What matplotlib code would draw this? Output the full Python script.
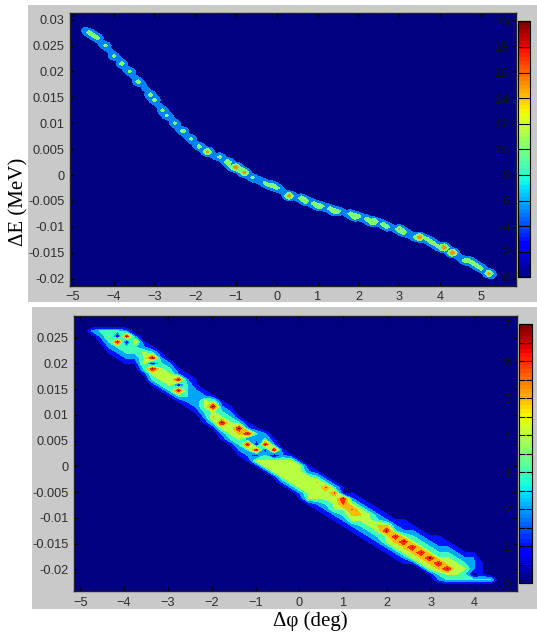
import numpy as np
import matplotlib
matplotlib.use('Agg')
import matplotlib.pyplot as plt
from matplotlib.cm import ScalarMappable
from matplotlib.colors import Normalize
from matplotlib.patches import Rectangle

W, H = 537, 634

# upper plot: ridge centre and count for each phi column
top_phi = [-4.7, -4.6, -4.5, -4.4, -4.3, -4.2, -4.1, -4.0, -3.9, -3.8, -3.7, -3.6, -3.5, -3.4, -3.3, -3.2, -3.1,
           -3.0, -2.9, -2.8, -2.7, -2.6, -2.5, -2.4, -2.3, -2.2, -2.1, -2.0, -1.9, -1.8, -1.7, -1.6, -1.5, -1.4,
           -1.3, -1.2, -1.1, -1.0, -0.9, -0.8, -0.7, -0.6, -0.5, -0.4, -0.3, -0.2, -0.1, 0.0, 0.1, 0.2, 0.3, 0.4,
           0.5, 0.6, 0.7, 0.8, 0.9, 1.0, 1.1, 1.2, 1.3, 1.4, 1.5, 1.6, 1.7, 1.8, 1.9, 2.0, 2.1, 2.2, 2.3, 2.4,
           2.5, 2.6, 2.7, 2.8, 2.9, 3.0, 3.1, 3.2, 3.3, 3.4, 3.5, 3.6, 3.7, 3.8, 3.9, 4.0, 4.1, 4.2, 4.3, 4.4,
           4.5, 4.6, 4.7, 4.8, 4.9, 5.0, 5.1, 5.2, 5.3]
top_de = [.0279, .0275, .0270, .0263, .0255, .0248, .0240, .0232, .0224, .0215, .0207, .0200, .0191, .0182, .0174,
          .0165, .0154, .0144, .0137, .0127, .0117, .0108, .0099, .0091, .0083, .0075, .0069, .0062, .0056, .0051,
          .0045, .0041, .0037, .0033, .0028, .0023, .0017, .0013, .0008, .0003, -.0001, -.0005, -.0008, -.0011,
          -.0015, -.0018, -.0022, -.0026, -.0030, -.0035, -.0038, -.0041, -.0044, -.0046, -.0048, -.0051, -.0055,
          -.0058, -.0060, -.0063, -.0065, -.0068, -.0070, -.0072, -.0075, -.0077, -.0079, -.0081, -.0083, -.0086,
          -.0088, -.0090, -.0092, -.0095, -.0098, -.0101, -.0104, -.0107, -.0110, -.0113, -.0116, -.0118, -.0121,
          -.0124, -.0127, -.0131, -.0135, -.0138, -.0142, -.0146, -.0150, -.0155, -.0159, -.0163, -.0167, -.0170,
          -.0174, -.0178, -.0185, -.0191, -.0195]
top_count = [8, 13, 13, 13, 8, 12, 8, 12, 8, 13, 8, 12, 8, 13, 8, 8, 13, 13, 8, 12, 12, 8, 12, 8, 13, 8, 12, 8, 13, 8,
             17, 8, 8, 12, 8, 15, 13, 19, 13, 18, 8, 12, 8, 8, 12, 12, 13, 13, 8, 8, 18, 8, 8, 14, 15, 8, 13, 14, 13,
             8, 13, 14, 13, 8, 8, 13, 15, 13, 8, 13, 14, 15, 8, 13, 13, 8, 8, 16, 15, 8, 8, 13, 18, 8, 13, 13, 12, 13,
             19, 8, 19, 8, 8, 13, 13, 13, 13, 13, 8, 17, 7]

# lower plot: counts along the diagonal, one line per phi bin,
# columns are row offsets +4 .. -7 from the diagonal
bot_band = [
    [0, 0, 0, 0, 2, 0, 0, 0, 0, 0, 0, 0],
    [0, 0, 0, 3, 2, 1, 0, 0, 0, 0, 0, 0],
    [0, 0, 3, 4, 3, 2, 1, 0, 0, 0, 0, 0],
    [0, 3, 0, 7, 3, 2, 1, 0, 0, 0, 0, 0],
    [2, 7, 0, 3, 3, 2, 1, 0, 0, 0, 0, 0],
    [2, 5, 3, 3, 2, 1, 0, 0, 0, 0, 0, 0],
    [1, 2, 4, 4, 4, 3, 1, 0, 0, 0, 0, 0],
    [1, 3, 7, 0, 7, 4, 3, 1, 0, 0, 0, 0],
    [1, 2, 3, 4, 4, 4, 3, 1, 0, 0, 0, 0],
    [0, 2, 3, 4, 4, 4, 3, 1, 0, 0, 0, 0],
    [0, 1, 2, 7, 0, 7, 3, 1, 0, 0, 0, 0],
    [0, 1, 2, 3, 3, 3, 2, 1, 0, 0, 0, 0],
    [0, 1, 1, 2, 2, 2, 2, 1, 0, 0, 0, 0],
    [0, 0, 1, 2, 4, 4, 3, 2, 1, 0, 0, 0],
    [0, 0, 1, 4, 7, 4, 5, 3, 1, 0, 0, 0],
    [0, 0, 1, 2, 3, 4, 7, 4, 2, 1, 0, 0],
    [0, 0, 1, 2, 3, 4, 4, 4, 3, 1, 0, 0],
    [0, 0, 0, 1, 3, 7, 5, 4, 3, 2, 1, 0],
    [0, 0, 0, 1, 2, 7, 1, 7, 3, 2, 1, 0],
    [0, 0, 0, 1, 3, 2, 0, 7, 1, 4, 1, 0],
    [0, 0, 0, 2, 3, 7, 0, 3, 4, 4, 1, 0],
    [0, 0, 0, 1, 2, 7, 0, 4, 4, 4, 1, 0],
    [0, 0, 0, 0, 1, 2, 4, 4, 4, 4, 2, 0],
    [0, 0, 0, 0, 1, 4, 4, 4, 4, 4, 2, 0],
    [0, 0, 0, 0, 1, 4, 4, 4, 4, 4, 2, 1],
    [0, 0, 0, 0, 1, 2, 4, 4, 4, 4, 4, 1],
    [0, 0, 0, 0, 1, 3, 5, 4, 4, 4, 2, 1],
    [0, 0, 0, 0, 1, 3, 6, 4, 4, 3, 2, 1],
    [0, 0, 0, 0, 1, 3, 6, 4, 4, 4, 2, 1],
    [0, 0, 0, 0, 1, 0, 7, 6, 4, 3, 2, 1],
    [0, 0, 0, 0, 1, 2, 4, 6, 5, 4, 2, 1],
    [0, 0, 0, 0, 1, 2, 4, 5, 4, 3, 2, 1],
    [0, 0, 0, 0, 1, 2, 4, 4, 4, 3, 2, 1],
    [0, 0, 0, 0, 1, 2, 3, 5, 4, 3, 2, 1],
    [0, 0, 0, 0, 1, 2, 5, 7, 4, 4, 2, 1],
    [0, 0, 0, 0, 1, 2, 3, 7, 5, 4, 2, 1],
    [0, 0, 0, 1, 1, 2, 4, 7, 5, 4, 2, 1],
    [0, 0, 0, 1, 2, 3, 4, 7, 5, 4, 1, 0],
    [0, 0, 0, 1, 2, 3, 4, 7, 5, 4, 1, 0],
    [0, 0, 0, 1, 2, 3, 4, 7, 5, 4, 1, 0],
    [0, 0, 1, 1, 2, 3, 4, 7, 5, 3, 2, 0],
    [0, 0, 1, 2, 3, 4, 4, 7, 4, 3, 0, 0],
    [0, 0, 1, 2, 3, 4, 4, 4, 3, 0, 0, 0],
    [0, 0, 1, 2, 3, 4, 3, 3, 0, 0, 0, 0],
    [0, 1, 2, 2, 2, 0, 3, 0, 0, 0, 0, 0],
    [0, 0, 1, 1, 1, 3, 0, 0, 0, 0, 0, 0],
    [0, 0, 0, 0, 3, 0, 0, 0, 0, 0, 0, 0],
]

top_levels = [0, 5, 10, 15, 25]
top_level_vals = [0, 5, 10, 15]
# boundaries sit just under the integers so a plateau of 4 takes the colour of 4
bot_levels = [-1, 0.9, 1.9, 2.9, 3.9, 4.9, 5.9, 6.9, 9]
bot_level_vals = [0, 1, 2, 3, 4, 5, 6, 7]

top_xticks = [-5, -4, -3, -2, -1, 0, 1, 2, 3, 4, 5]
top_yticks = [-0.02, -0.015, -0.01, -0.005, 0, 0.005, 0.01, 0.015, 0.02, 0.025, 0.03]
top_ylabels = ['-0.02', '-0.015', '-0.01', '-0.005', '0', '0.005', '0.01', '0.015', '0.02', '0.025', '0.03']
bot_xticks = [-5, -4, -3, -2, -1, 0, 1, 2, 3, 4]
bot_yticks = [-0.02, -0.015, -0.01, -0.005, 0, 0.005, 0.01, 0.015, 0.02, 0.025]
bot_ylabels = ['-0.02', '-0.015', '-0.01', '-0.005', '0', '0.005', '0.01', '0.015', '0.02', '0.025']

GRAY = '#c9c9c9'
TICK = '#2e2e2e'
plt.rcParams['font.family'] = ['Liberation Sans', 'DejaVu Sans']

fig = plt.figure(figsize=(W / 100, H / 100), dpi=100, facecolor='white')


def box(x0, y0, x1, y1):
    # pixel box (y down) to figure fractions
    return [x0 / W, 1 - y1 / H, (x1 - x0) / W, (y1 - y0) / H]


# gray backgrounds of the two pasted plots
fig.add_artist(Rectangle((28 / W, 1 - 302 / H), 509 / W, 297 / H, transform=fig.transFigure, color=GRAY, lw=0, zorder=-1))
fig.add_artist(Rectangle((32 / W, 1 - 609 / H), 505 / W, 302 / H, transform=fig.transFigure, color=GRAY, lw=0, zorder=-1))


def style_axes(ax, xticks, yticks, ylabels):
    ax.set_xticks(xticks)
    ax.set_yticks(yticks)
    ax.set_yticklabels(ylabels)
    ax.tick_params(direction='in', top=True, right=True, length=3, width=0.8,
                   labelsize=9.2, labelcolor=TICK, pad=4)
    for s in ax.spines.values():
        s.set_linewidth(1.0)
        s.set_color('#222222')


def add_bar(rect, vmax, ticks, labels):
    cax = fig.add_axes(rect)
    sm = ScalarMappable(Normalize(0, vmax), plt.get_cmap('jet', 64))
    cb = fig.colorbar(sm, cax=cax)
    cb.set_ticks(ticks)
    cb.set_ticklabels(labels)
    cax.tick_params(direction='in', left=True, right=True, labelleft=True, labelright=False,
                    length=4, width=0.8, labelsize=9.5, labelcolor='#111111', pad=6)
    cb.outline.set_linewidth(0.8)
    return cax


# upper plot
xg = np.arange(-5.2, 6.0, 0.1)
yg = np.arange(-0.0225, 0.0325, 0.0005)
z = np.zeros((len(yg), len(xg)))
spread = np.array([[.15, .25, .15],
                   [.4, .7, .4],
                   [.6, 1, .6],
                   [.4, .7, .4],
                   [.15, .25, .15]])
for p, d, c in zip(top_phi, top_de, top_count):
    i = int(np.argmin(np.abs(yg - d)))
    j = int(np.argmin(np.abs(xg - p)))
    z[i - 2:i + 3, j - 1:j + 2] = np.maximum(z[i - 2:i + 3, j - 1:j + 2], c * spread)

ax1 = fig.add_axes(box(70, 13, 516, 285.5))
ax1.contourf(xg, yg, z, levels=top_levels, colors=[plt.cm.jet(v / 20) for v in top_level_vals])
ax1.set_xlim(-5.07, 5.86)
ax1.set_ylim(-0.02134, 0.0313)
style_axes(ax1, top_xticks, top_yticks, top_ylabels)
add_bar(box(518, 21.3, 530, 277.3), 20, list(range(0, 21, 2)), [str(v) for v in range(0, 21, 2)])
fig.text(19 / W, 1 - 202 / H, '\u0394E (MeV)', rotation=90, ha='center', va='center',
         fontsize=15, family='Liberation Serif', color='black')

# lower plot
dx, dy = 0.198, 0.00105
z2 = np.zeros((56, 56))
for k, line in enumerate(bot_band):
    for n, val in enumerate(line):
        row = 46 - k + 4 - n
        if row >= 0:
            z2[row + 4, k + 4] = val
xg2 = -4.74 + dx * (np.arange(56) - 4)
yg2 = -0.022 + dy * (np.arange(56) - 4)

ax2 = fig.add_axes(box(74, 315.7, 517, 591))
ax2.contourf(xg2, yg2, z2, levels=bot_levels, colors=[plt.cm.jet(v / 7) for v in bot_level_vals])
ax2.set_xlim(-5.144, 4.967)
ax2.set_ylim(-0.02422, 0.02927)
style_axes(ax2, bot_xticks, bot_yticks, bot_ylabels)
half = [v / 2 for v in range(15)]
add_bar(box(519, 324.3, 531.7, 583), 7, half, [str(int(v)) if v == int(v) else '' for v in half])
fig.text(310 / W, 1 - 621 / H, '\u0394\u03c6 (deg)', ha='center', va='center',
         fontsize=15, family='Liberation Serif', color='black')

fig.savefig('out.png', dpi=100)
